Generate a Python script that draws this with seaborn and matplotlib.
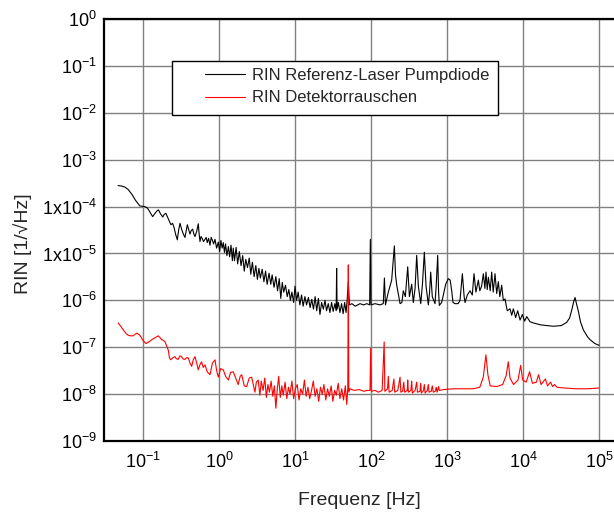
import math

import matplotlib
matplotlib.use("Agg")
import matplotlib.pyplot as plt
from matplotlib.patches import Rectangle
from matplotlib.ticker import FixedLocator, FuncFormatter, LogLocator, NullFormatter
import pandas as pd
import seaborn as sns

# RIN of the reference laser (pump diode)
ref_freq = [
    0.047, 0.052, 0.058, 0.064, 0.071, 0.080, 0.091, 0.106, 0.115, 0.121,
    0.134, 0.145, 0.152, 0.160, 0.170, 0.182, 0.190, 0.200, 0.215, 0.233,
    0.245, 0.256, 0.270, 0.283, 0.295, 0.307, 0.322, 0.339, 0.357, 0.370,
    0.383, 0.400, 0.415, 0.432, 0.450, 0.467, 0.483, 0.510, 0.534, 0.548,
    0.562, 0.580, 0.600, 0.625, 0.654, 0.680, 0.700, 0.730, 0.761, 0.790,
    0.820, 0.850, 0.886, 0.930, 0.980, 1.02, 1.06, 1.10, 1.14, 1.18,
    1.22, 1.27, 1.33, 1.38, 1.44, 1.50, 1.54, 1.60, 1.68, 1.76,
    1.85, 1.95, 2.05, 2.15, 2.25, 2.37, 2.50, 2.62, 2.75, 2.90,
    3.05, 3.20, 3.35, 3.50, 3.70, 3.90, 4.10, 4.30, 4.55, 4.80,
    5.00, 5.30, 5.60, 5.90, 6.20, 6.50, 6.80, 7.10, 7.50, 7.90,
    8.30, 8.70, 9.10, 9.60, 10.0, 10.5, 11.0, 11.6, 12.2, 12.8,
    13.5, 14.2, 15.0, 15.8, 16.6, 17.5, 18.4, 19.3, 20.3, 21.3,
    22.4, 23.6, 24.8, 26.0, 27.4, 28.8, 30.3, 31.8, 33.4, 34.8,
    35.3, 35.8, 37.2, 39.0, 41.0, 43.0, 45.0, 47.0, 48.5, 50.3,
    52.0, 56.0, 62.0, 71.7, 80.0, 88.0, 96.0, 98.0, 100.0, 113,
    131, 145, 150, 155, 169, 187, 203, 210, 218, 241,
    255, 266, 283, 304, 320, 343, 360, 380, 399, 420,
    451, 475, 503, 530, 568, 590, 610, 640, 695, 720,
    754, 775, 792, 850, 895, 960, 1042, 1100, 1152, 1200,
    1274, 1400, 1482, 1592, 1680, 1726, 1850, 2009, 2150, 2266,
    2400, 2584, 2700, 2850, 3006, 3150, 3258, 3380, 3500, 3700,
    3872, 4050, 4283, 4500, 4735, 4950, 5240, 5500, 5796, 6200,
    6745, 7100, 7460, 8000, 8500, 9140, 9800, 10500, 11190, 12360,
    13670, 17000, 25080, 32000, 37600, 41000, 43750, 46500, 48350, 50500,
    53450, 57000, 62150, 70000, 76200, 88000, 100000,
]
ref_rin = [
    2.8e-4, 2.75e-4, 2.6e-4, 2.3e-4, 1.85e-4, 1.35e-4, 1.03e-4, 1.0e-4, 9.2e-5, 8.0e-5,
    6.1e-5, 7.3e-5, 8.0e-5, 8.5e-5, 7.0e-5, 6.0e-5, 6.8e-5, 7.2e-5, 5.5e-5, 4.1e-5,
    4.4e-5, 3.6e-5, 2.5e-5, 1.95e-5, 3.2e-5, 4.4e-5, 3.3e-5, 2.6e-5, 2.2e-5, 3.0e-5,
    4.1e-5, 3.2e-5, 2.6e-5, 3.1e-5, 3.3e-5, 2.6e-5, 2.3e-5, 3.0e-5, 4.3e-5, 2.6e-5,
    1.8e-5, 2.3e-5, 2.1e-5, 1.8e-5, 2.0e-5, 2.2e-5, 1.7e-5, 2.1e-5, 1.5e-5, 2.2e-5,
    1.9e-5, 1.6e-5, 2.0e-5, 1.3e-5, 1.75e-5, 1.1e-5, 1.9e-5, 1.3e-5, 1.7e-5, 1.05e-5,
    1.6e-5, 9.0e-6, 1.4e-5, 8.5e-6, 1.5e-5, 7.0e-6, 1.3e-5, 7.0e-6, 1.35e-5, 6.0e-6,
    1.1e-5, 5.5e-6, 9.0e-6, 4.2e-6, 7.5e-6, 5.0e-6, 8.0e-6, 3.6e-6, 6.5e-6, 3.2e-6,
    5.5e-6, 2.8e-6, 4.8e-6, 3.0e-6, 4.6e-6, 2.5e-6, 4.2e-6, 2.2e-6, 3.8e-6, 2.2e-6,
    3.5e-6, 1.9e-6, 3.2e-6, 1.6e-6, 2.9e-6, 1.1e-6, 2.4e-6, 1.5e-6, 2.1e-6, 1.2e-6,
    1.7e-6, 1.0e-6, 1.5e-6, 9.0e-7, 2.0e-6, 1.0e-6, 1.5e-6, 8.0e-7, 1.3e-6, 7.5e-7,
    1.2e-6, 8.0e-7, 1.15e-6, 7.0e-7, 1.05e-6, 6.5e-7, 1.2e-6, 6.0e-7, 1.1e-6, 5.0e-7,
    9.0e-7, 6.5e-7, 1.0e-6, 6.0e-7, 8.5e-7, 5.5e-7, 9.0e-7, 5.8e-7, 8.5e-7, 6.0e-7,
    4.8e-6, 6.5e-7, 9.0e-7, 5.5e-7, 8.5e-7, 5.2e-7, 9.0e-7, 5.5e-7, 1.0e-6, 2.5e-6,
    8.0e-7, 8.5e-7, 7.5e-7, 8.5e-7, 8.0e-7, 8.5e-7, 8.0e-7, 2.0e-5, 8.0e-7, 8.5e-7,
    8.0e-7, 8.5e-7, 3.0e-6, 8.0e-7, 1.5e-6, 2.7e-6, 1.45e-5, 3.5e-6, 2.1e-6, 8.5e-7,
    9.0e-7, 1.6e-6, 1.2e-6, 5.2e-6, 1.2e-6, 2.2e-6, 9.0e-7, 1.8e-6, 9.1e-6, 2.0e-6,
    8.5e-7, 2.2e-6, 1.06e-5, 2.0e-6, 8.0e-7, 1.5e-6, 4.0e-6, 1.2e-6, 8.5e-7, 2.0e-6,
    9.1e-6, 1.5e-6, 7.8e-7, 9.0e-7, 1.3e-6, 2.2e-6, 2.9e-6, 2.7e-6, 1.6e-6, 9.0e-7,
    8.5e-7, 8.5e-7, 1.0e-6, 3.7e-6, 1.2e-6, 9.0e-7, 1.3e-6, 1.6e-6, 1.3e-6, 3.7e-6,
    1.5e-6, 2.7e-6, 1.6e-6, 2.0e-6, 3.7e-6, 1.8e-6, 4.0e-6, 1.7e-6, 3.1e-6, 1.6e-6,
    4.0e-6, 1.5e-6, 3.7e-6, 1.4e-6, 2.5e-6, 1.2e-6, 2.1e-6, 1.0e-6, 1.07e-6, 6.0e-7,
    6.6e-7, 4.8e-7, 6.6e-7, 4.3e-7, 6.0e-7, 3.8e-7, 5.0e-7, 3.6e-7, 4.5e-7, 3.5e-7,
    3.3e-7, 3.0e-7, 2.8e-7, 2.9e-7, 3.4e-7, 4.2e-7, 6.2e-7, 9.5e-7, 1.15e-6, 8.5e-7,
    5.9e-7, 3.5e-7, 2.35e-7, 1.7e-7, 1.45e-7, 1.2e-7, 1.1e-7,
]

# RIN of the detector noise floor
det_freq = [
    0.047, 0.051, 0.055, 0.060, 0.064, 0.069, 0.074, 0.079, 0.083, 0.087,
    0.091, 0.100, 0.109, 0.120, 0.130, 0.145, 0.159, 0.168, 0.176, 0.186,
    0.195, 0.205, 0.215, 0.223, 0.231, 0.245, 0.263, 0.275, 0.290, 0.305,
    0.320, 0.338, 0.357, 0.375, 0.395, 0.415, 0.437, 0.460, 0.483, 0.510,
    0.534, 0.560, 0.590, 0.620, 0.654, 0.700, 0.761, 0.820, 0.886, 0.930,
    0.980, 1.05, 1.14, 1.22, 1.33, 1.42, 1.54, 1.66, 1.79, 1.90,
    1.99, 2.15, 2.31, 2.50, 2.69, 2.85, 2.97, 3.10, 3.28, 3.45,
    3.60, 3.80, 4.00, 4.20, 4.40, 4.60, 4.85, 5.10, 5.35, 5.60,
    5.85, 6.10, 6.40, 6.70, 7.00, 7.40, 7.80, 8.20, 8.60, 9.10,
    9.60, 10.1, 10.7, 11.3, 11.9, 12.6, 13.3, 14.0, 14.8, 15.6,
    16.5, 17.4, 18.4, 19.4, 20.5, 21.6, 22.8, 24.0, 25.4, 26.8,
    28.3, 29.9, 31.5, 33.2, 35.0, 37.0, 39.0, 41.2, 43.5, 45.9,
    48.0, 49.5, 50.3, 51.0, 53, 60, 70, 80, 90, 97,
    99, 101, 113, 125, 140, 149, 152, 165, 169, 173,
    190, 200, 205, 225, 241, 247, 260, 270, 276, 300,
    304, 310, 335, 343, 350, 380, 399, 408, 440, 451,
    460, 490, 503, 515, 550, 568, 580, 620, 640, 660,
    700, 720, 740, 775, 790, 900, 1200, 1600, 2200, 2700,
    3000, 3250, 3450, 3700, 4500, 5400, 6000, 6400, 6750, 7500,
    8600, 9300, 9900, 11000, 12200, 13300, 15000, 16000, 17300, 19700,
    21000, 23000, 24500, 26000, 28000, 35000, 50000, 70000, 100000,
]
det_rin = [
    3.3e-7, 2.8e-7, 2.35e-7, 1.95e-7, 1.8e-7, 1.75e-7, 1.75e-7, 1.9e-7, 2.0e-7, 1.9e-7,
    1.8e-7, 1.4e-7, 1.2e-7, 1.3e-7, 1.45e-7, 1.6e-7, 1.75e-7, 1.6e-7, 1.45e-7, 1.4e-7,
    1.3e-7, 1.05e-7, 8.7e-8, 6.0e-8, 5.4e-8, 5.9e-8, 6.3e-8, 5.7e-8, 5.5e-8, 6.5e-8,
    6.4e-8, 5.6e-8, 5.5e-8, 6.0e-8, 5.9e-8, 4.6e-8, 3.9e-8, 5.5e-8, 6.3e-8, 4.5e-8,
    3.3e-8, 4.2e-8, 4.9e-8, 3.7e-8, 4.2e-8, 3.0e-8, 2.6e-8, 4.6e-8, 5.4e-8, 3.2e-8,
    2.3e-8, 3.5e-8, 3.3e-8, 2.4e-8, 2.0e-8, 2.9e-8, 3.0e-8, 2.2e-8, 1.6e-8, 2.4e-8,
    2.6e-8, 1.5e-8, 1.45e-8, 2.2e-8, 2.3e-8, 1.5e-8, 1.1e-8, 1.8e-8, 2.0e-8, 9.5e-9,
    1.9e-8, 1.2e-8, 2.2e-8, 8.5e-9, 1.6e-8, 1.1e-8, 1.9e-8, 9.0e-9, 1.5e-8, 5.0e-9,
    1.3e-8, 2.4e-8, 8.5e-9, 1.5e-8, 9.5e-9, 1.8e-8, 8.0e-9, 1.4e-8, 1.0e-8, 1.9e-8,
    8.0e-9, 1.3e-8, 1.6e-8, 7.5e-9, 1.3e-8, 1.0e-8, 2.0e-8, 9.0e-9, 1.4e-8, 8.0e-9,
    1.2e-8, 1.9e-8, 9.0e-9, 1.3e-8, 7.0e-9, 1.4e-8, 1.0e-8, 1.6e-8, 7.5e-9, 1.3e-8,
    9.0e-9, 1.5e-8, 7.0e-9, 1.2e-8, 9.5e-9, 1.7e-8, 8.0e-9, 1.3e-8, 7.5e-9, 1.5e-8,
    6.0e-9, 1.4e-8, 5.7e-6, 1.1e-8, 1.3e-8, 1.2e-8, 1.25e-8, 1.15e-8, 1.2e-8, 1.2e-8,
    9.5e-8, 1.15e-8, 1.2e-8, 1.1e-8, 1.2e-8, 1.3e-7, 1.15e-8, 1.3e-8, 2.4e-8, 1.1e-8,
    1.2e-8, 2.1e-8, 1.1e-8, 1.2e-8, 2.3e-8, 1.1e-8, 1.15e-8, 1.8e-8, 1.1e-8, 1.2e-8,
    2.0e-8, 1.1e-8, 1.2e-8, 1.9e-8, 1.05e-8, 1.2e-8, 1.8e-8, 1.1e-8, 1.15e-8, 1.7e-8,
    1.05e-8, 1.2e-8, 1.6e-8, 1.05e-8, 1.2e-8, 1.6e-8, 1.1e-8, 1.15e-8, 1.5e-8, 1.1e-8,
    1.15e-8, 1.4e-8, 1.1e-8, 1.45e-8, 1.2e-8, 1.25e-8, 1.3e-8, 1.3e-8, 1.3e-8, 1.4e-8,
    2.3e-8, 6.9e-8, 2.6e-8, 1.5e-8, 1.45e-8, 1.6e-8, 2.5e-8, 4.9e-8, 2.2e-8, 1.6e-8,
    2.0e-8, 4.1e-8, 2.0e-8, 1.8e-8, 3.0e-8, 1.7e-8, 1.8e-8, 2.6e-8, 1.6e-8, 2.1e-8,
    1.5e-8, 1.8e-8, 1.45e-8, 1.6e-8, 1.4e-8, 1.35e-8, 1.3e-8, 1.3e-8, 1.35e-8,
]

series_labels = ["RIN Referenz-Laser Pumpdiode", "RIN Detektorrauschen"]
series_colors = ["#000000", "#ff0000"]
x_decades = [1e-1, 1e0, 1e1, 1e2, 1e3, 1e4, 1e5]
y_decades = [1e-9, 1e-8, 1e-7, 1e-6, 1e-5, 1e-4, 1e-3, 1e-2, 1e-1, 1e0]


def decade_label(value, pos):
    exp = int(round(math.log10(value)))
    if exp in (-4, -5):
        return rf"$\mathregular{{1x10^{{{exp}}}}}$"
    return rf"$\mathregular{{10^{{{exp}}}}}$"


def main() -> None:
    sns.set_style("white")
    plt.rcParams["font.family"] = ["Liberation Sans", "DejaVu Sans"]
    plt.rcParams["mathtext.fontset"] = "custom"
    plt.rcParams["mathtext.rm"] = "Liberation Sans"
    plt.rcParams["mathtext.it"] = "Liberation Sans:italic"
    plt.rcParams["mathtext.bf"] = "Liberation Sans:bold"

    fig = plt.figure(figsize=(6.14, 5.14), dpi=100)
    ax = fig.add_axes([0.1694, 0.142, 0.8306, 0.821])
    ax.set_xscale("log")
    ax.set_yscale("log")

    ref = pd.DataFrame({"f": ref_freq, "rin": ref_rin})
    det = pd.DataFrame({"f": det_freq, "rin": det_rin})
    sns.lineplot(data=ref, x="f", y="rin", color=series_colors[0], linewidth=0.8,
                 estimator=None, sort=False, label=series_labels[0], ax=ax, zorder=3)
    sns.lineplot(data=det, x="f", y="rin", color=series_colors[1], linewidth=0.8,
                 estimator=None, sort=False, label=series_labels[1], ax=ax, zorder=3)

    ax.set_xlim(0.0307, 1.574e5)
    ax.set_ylim(1e-9, 1)

    ax.xaxis.set_major_locator(FixedLocator(x_decades))
    ax.yaxis.set_major_locator(FixedLocator(y_decades))
    for axis in (ax.xaxis, ax.yaxis):
        axis.set_minor_locator(LogLocator(base=10, subs=range(2, 10), numticks=30))
        axis.set_major_formatter(FuncFormatter(decade_label))
        axis.set_minor_formatter(NullFormatter())

    ax.grid(True, which="major", color="#808080", linewidth=1.0)
    ax.grid(False, which="minor")
    ax.set_axisbelow(True)

    ax.tick_params(which="both", direction="in", top=False, right=False,
                   colors="black", width=1.0, labelsize=13)
    ax.tick_params(which="major", length=7)
    ax.tick_params(which="minor", length=4)
    ax.tick_params(axis="x", which="major", pad=8)
    ax.tick_params(axis="y", which="major", pad=5)

    for side in ("top", "left", "bottom"):
        ax.spines[side].set_color("black")
        ax.spines[side].set_linewidth(1.6)
    ax.spines["right"].set_visible(False)

    ax.set_xlabel("Frequenz [Hz]", fontsize=14, labelpad=14)
    ax.set_ylabel("RIN [1/\u221aHz]", fontsize=14)
    ax.yaxis.set_label_coords(-0.141, 0.467)

    ax.add_patch(Rectangle((0.1333, 0.7725), 0.6392, 0.128, transform=ax.transAxes,
                           facecolor="white", edgecolor="black", linewidth=1.0, zorder=4))
    ax.legend(loc="upper left", bbox_to_anchor=(0.198, 0.884), borderaxespad=0,
              borderpad=0, frameon=False, fontsize=12, handlelength=2.4,
              handletextpad=0.4, labelspacing=0.45).set_zorder(5)

    fig.savefig("out.png", dpi=100)
    plt.close(fig)


if __name__ == "__main__":
    main()
